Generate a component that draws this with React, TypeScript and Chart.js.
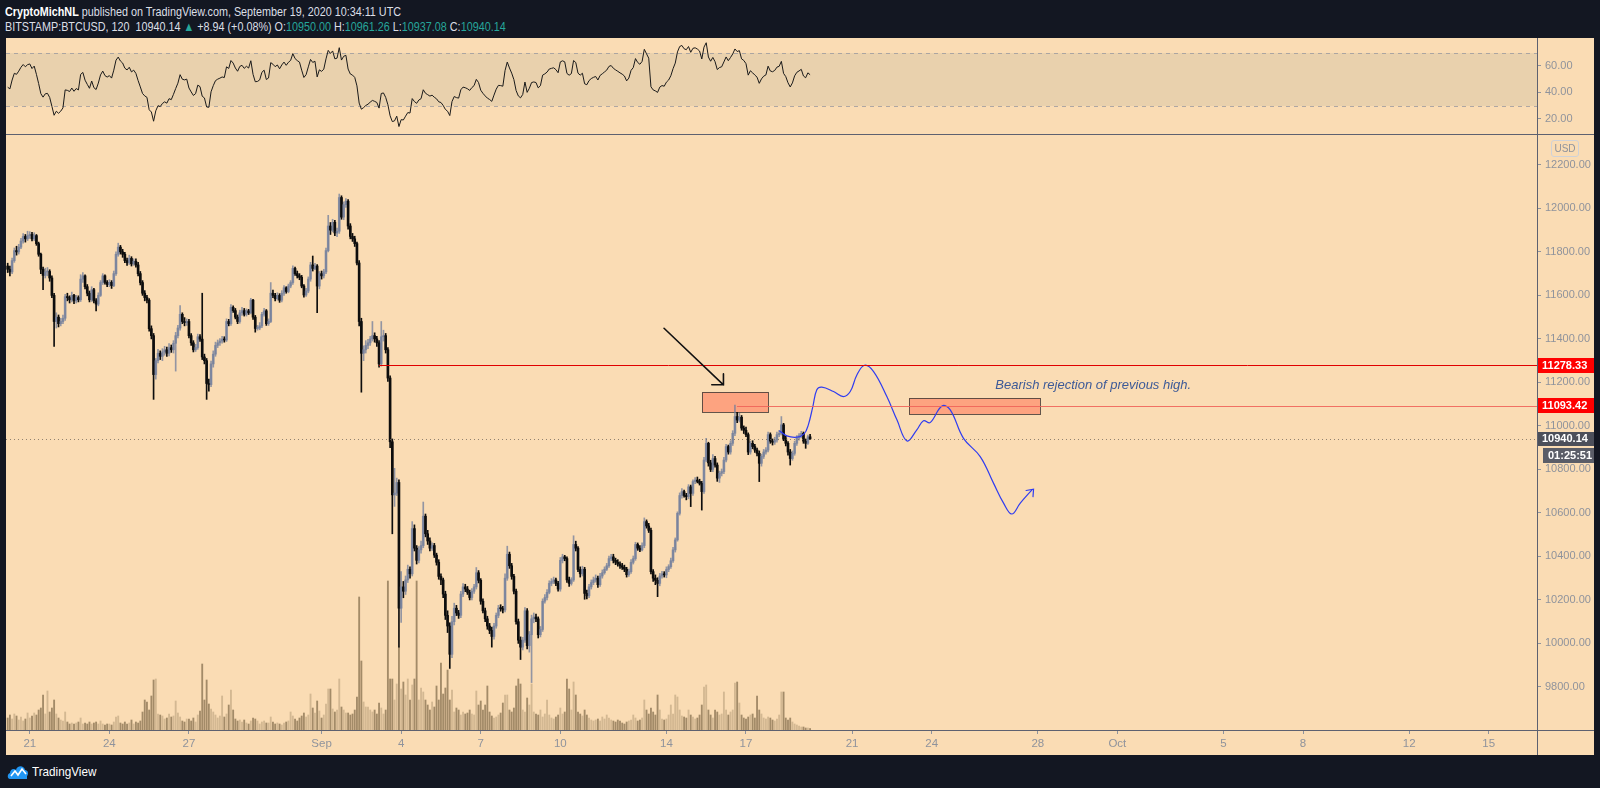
import React, { useEffect, useRef } from 'react';
import { Chart, registerables } from 'chart.js';

Chart.register(...registerables);

// ---------------- DATA ----------------
// 2-hour BTC/USD candles (Bitstamp), first candle Aug 20 04:00 UTC, last Sep 19 10:00 UTC.
// Time unit of the x axis: days relative to Aug 21 00:00 UTC.
const firstCandleDay = -20 / 24;
const candleStepDays = 2 / 24;
const firstOpen = 11735;

const closes = [
  11720, 11708, 11760, 11806, 11800, 11822, 11850, 11871, 11860, 11875, // Aug 20
  11880, 11860, 11875, 11838, 11789, 11720, 11692, 11708, 11710, 11680, 11600, 11480, // Aug 21
  11500, 11470, 11480, 11495, 11594, 11590, 11580, 11600, 11575, 11590, 11580, 11675, // Aug 22
  11690, 11640, 11610, 11580, 11626, 11575, 11560, 11600, 11659, 11690, 11660, 11650, // Aug 23
  11660, 11645, 11700, 11789, 11822, 11800, 11789, 11760, 11750, 11770, 11745, 11757, // Aug 24
  11740, 11700, 11659, 11610, 11590, 11578, 11447, 11415, 11236, 11300, 11334, 11320, // Aug 25
  11340, 11350, 11334, 11360, 11350, 11380, 11415, 11450, 11513, 11480, 11475, 11480, // Aug 26
  11415, 11382, 11350, 11360, 11410, 11399, 11317, 11300, 11195, 11190, 11285, 11330, // Aug 27
  11370, 11382, 11390, 11399, 11395, 11480, 11470, 11545, 11530, 11500, 11480, 11520, // Aug 28
  11530, 11513, 11529, 11520, 11578, 11500, 11448, 11450, 11460, 11513, 11529, 11470, // Aug 29
  11480, 11610, 11600, 11585, 11600, 11578, 11610, 11635, 11618, 11643, 11659, 11724, // Aug 30
  11700, 11690, 11683, 11643, 11602, 11620, 11675, 11740, 11724, 11735, 11643, 11700, // Aug 31
  11690, 11708, 11806, 11919, 11900, 11936, 11887, 11895, 12050, 11960, 12017, 12033, // Sep 1
  11919, 11871, 11860, 11838, 11749, 11480, 11334, 11350, 11370, 11382, 11400, 11415, // Sep 2
  11400, 11382, 11285, 11410, 11415, 11350, 11220, 10927, 10683, 10691, 10740, 10162, // Sep 3
  10260, 10240, 10292, 10341, 10320, 10528, 10438, 10382, 10430, 10450, 10585, 10504, // Sep 4
  10471, 10438, 10450, 10406, 10373, 10308, 10292, 10227, 10129, 10080, 9950, 10100, // Sep 5
  10162, 10140, 10129, 10227, 10260, 10250, 10235, 10211, 10240, 10260, 10325, 10290, // Sep 6
  10194, 10150, 10113, 10080, 10060, 10032, 10080, 10129, 10162, 10160, 10154, 10300, // Sep 7
  10410, 10357, 10308, 10240, 10100, 10015, 9983, 10015, 10150, 9990, 10040, 10113, // Sep 8
  10121, 10113, 10040, 10064, 10194, 10211, 10235, 10276, 10285, 10292, 10276, 10250, // Sep 9
  10382, 10398, 10390, 10292, 10276, 10292, 10455, 10438, 10340, 10320, 10341, 10230, // Sep 10
  10219, 10260, 10280, 10292, 10300, 10270, 10310, 10325, 10341, 10357, 10390, 10398, // Sep 11
  10382, 10373, 10365, 10357, 10350, 10341, 10316, 10330, 10373, 10390, 10455, 10438, // Sep 12
  10430, 10450, 10560, 10540, 10520, 10330, 10300, 10290, 10276, 10310, 10320, 10315, // Sep 13
  10340, 10353, 10380, 10430, 10476, 10598, 10680, 10698, 10680, 10675, 10720, 10690, // Sep 14
  10744, 10751, 10745, 10736, 10698, 10843, 10920, 10830, 10800, 10850, 10820, 10760, // Sep 15
  10782, 10790, 10843, 10905, 10880, 10920, 10966, 11043, 11027, 11040, 10990, 10980, // Sep 16
  10960, 10880, 10920, 10905, 10889, 10874, 10828, 10860, 10880, 10889, 10960, 10930, // Sep 17
  10925, 10935, 10960, 10966, 11005, 10940, 10920, 10880, 10850, 10874, 10920, 10945, // Sep 18
  10955, 10966, 10930, 10920, 10950, 10940.14, // Sep 19
];

const highs = [
  11748, 11735, 11772, 11818, 11826, 11835, 11862, 11884, 11880, 11895,
  11893, 11890, 11888, 11880, 11845, 11795, 11730, 11725, 11728, 11718, 11690, 11610,
  11520, 11510, 11495, 11510, 11605, 11610, 11598, 11615, 11605, 11600, 11598, 11695,
  11705, 11695, 11650, 11620, 11640, 11632, 11585, 11612, 11668, 11700, 11695, 11668,
  11672, 11668, 11712, 11800, 11840, 11830, 11812, 11798, 11772, 11785, 11778, 11768,
  11768, 11752, 11710, 11668, 11622, 11600, 11585, 11460, 11425, 11310, 11352, 11345,
  11355, 11366, 11362, 11378, 11372, 11392, 11430, 11462, 11553, 11520, 11498, 11492,
  11490, 11425, 11392, 11375, 11422, 11420, 11610, 11330, 11310, 11215, 11298, 11345,
  11385, 11395, 11402, 11412, 11410, 11492, 11490, 11558, 11552, 11540, 11510, 11532,
  11545, 11540, 11538, 11536, 11586, 11582, 11508, 11462, 11475, 11522, 11540, 11535,
  11492, 11659, 11625, 11610, 11612, 11608, 11622, 11645, 11640, 11652, 11668, 11736,
  11730, 11712, 11700, 11692, 11650, 11632, 11685, 11752, 11781, 11748, 11742, 11710,
  11712, 11720, 11818, 11968, 11935, 11950, 11945, 11910, 12066, 12058, 12030, 12045,
  12040, 11930, 11885, 11872, 11845, 11760, 11495, 11368, 11392, 11398, 11412, 11480,
  11428, 11412, 11392, 11480, 11440, 11425, 11360, 11230, 10940, 10805, 10760, 10752,
  10330, 10285, 10310, 10360, 10352, 10560, 10545, 10450, 10445, 10470, 10650, 10595,
  10520, 10485, 10462, 10460, 10415, 10385, 10320, 10300, 10240, 10150, 10095, 10125,
  10185, 10175, 10152, 10240, 10275, 10272, 10262, 10245, 10252, 10272, 10349, 10335,
  10298, 10205, 10162, 10125, 10092, 10075, 10092, 10140, 10175, 10178, 10170, 10320,
  10447, 10420, 10368, 10318, 10250, 10112, 10030, 10028, 10165, 10160, 10055, 10130,
  10140, 10135, 10122, 10078, 10205, 10225, 10248, 10288, 10298, 10305, 10300, 10285,
  10395, 10410, 10405, 10398, 10305, 10302, 10495, 10470, 10445, 10352, 10355, 10350,
  10245, 10272, 10292, 10305, 10315, 10310, 10322, 10338, 10352, 10368, 10402, 10410,
  10410, 10392, 10385, 10375, 10368, 10360, 10350, 10342, 10385, 10402, 10465, 10462,
  10450, 10462, 10577, 10568, 10552, 10530, 10340, 10315, 10302, 10322, 10332, 10330,
  10352, 10362, 10392, 10442, 10485, 10605, 10692, 10712, 10705, 10690, 10730, 10728,
  10752, 10762, 10765, 10755, 10745, 10855, 10943, 10925, 10842, 10868, 10860, 10830,
  10792, 10802, 10855, 10915, 10912, 10932, 10978, 11096, 11062, 11058, 11048, 11000,
  10995, 10968, 10930, 10932, 10915, 10898, 10885, 10870, 10892, 10900, 10972, 10968,
  10940, 10948, 10972, 10980, 11043, 11012, 10952, 10928, 10892, 10885, 10930, 10955,
  10965, 10975, 10972, 10940, 10958, 10961.26,
];

const lows = [
  11705, 11690, 11700, 11752, 11785, 11790, 11815, 11840, 11845, 11852,
  11862, 11850, 11852, 11830, 11780, 11700, 11626, 11680, 11690, 11665, 11590, 11366,
  11450, 11455, 11460, 11470, 11485, 11575, 11565, 11570, 11562, 11565, 11570, 11572,
  11660, 11630, 11598, 11570, 11572, 11565, 11529, 11552, 11595, 11650, 11652, 11640,
  11640, 11632, 11640, 11692, 11780, 11790, 11775, 11750, 11738, 11742, 11735, 11738,
  11730, 11690, 11648, 11600, 11575, 11565, 11435, 11400, 11122, 11215, 11290, 11305,
  11300, 11325, 11320, 11322, 11338, 11335, 11252, 11405, 11440, 11470, 11460, 11462,
  11405, 11370, 11340, 11342, 11352, 11388, 11305, 11285, 11122, 11160, 11180, 11270,
  11320, 11360, 11370, 11380, 11385, 11388, 11460, 11462, 11522, 11492, 11470, 11472,
  11508, 11505, 11505, 11512, 11515, 11490, 11431, 11440, 11442, 11452, 11505, 11462,
  11462, 11475, 11590, 11575, 11578, 11568, 11570, 11600, 11610, 11612, 11635, 11650,
  11692, 11680, 11672, 11635, 11592, 11595, 11612, 11665, 11712, 11718, 11521, 11630,
  11675, 11680, 11700, 11800, 11880, 11892, 11875, 11870, 11885, 11950, 11948, 12005,
  11905, 11860, 11848, 11825, 11740, 11460, 11155, 11300, 11335, 11355, 11370, 11390,
  11385, 11365, 11270, 11275, 11390, 11335, 11205, 10900, 10504, 10630, 10680, 9983,
  10097, 10210, 10225, 10280, 10300, 10310, 10425, 10365, 10370, 10415, 10440, 10490,
  10455, 10425, 10428, 10395, 10360, 10295, 10270, 10210, 10110, 10050, 9885, 9935,
  10085, 10128, 10115, 10118, 10215, 10238, 10225, 10200, 10200, 10230, 10250, 10278,
  10180, 10140, 10100, 10065, 10045, 9983, 10020, 10070, 10118, 10148, 10140, 10145,
  10290, 10345, 10295, 10228, 10088, 10000, 9926, 9970, 10005, 9975, 9960, 9820,
  10095, 10100, 10025, 10030, 10055, 10185, 10200, 10228, 10265, 10275, 10265, 10240,
  10240, 10370, 10380, 10280, 10262, 10268, 10285, 10425, 10330, 10305, 10310, 10203,
  10205, 10210, 10250, 10270, 10282, 10258, 10262, 10300, 10318, 10335, 10350, 10380,
  10370, 10362, 10355, 10345, 10340, 10330, 10305, 10308, 10322, 10365, 10382, 10428,
  10422, 10425, 10440, 10530, 10510, 10320, 10285, 10270, 10215, 10265, 10300, 10305,
  10302, 10330, 10345, 10372, 10420, 10470, 10590, 10668, 10672, 10660, 10665, 10629,
  10680, 10735, 10738, 10728, 10613, 10690, 10835, 10815, 10790, 10790, 10810, 10745,
  10740, 10770, 10780, 10835, 10870, 10870, 10910, 10955, 11015, 11018, 10980, 10965,
  10950, 10868, 10870, 10895, 10878, 10862, 10744, 10815, 10850, 10870, 10880, 10920,
  10912, 10915, 10925, 10950, 10958, 10932, 10908, 10865, 10820, 10842, 10865, 10910,
  10935, 10945, 10920, 10897, 10915, 10937.08,
];

const volumes = [
  120, 150, 110, 160, 140, 100, 130, 90, 110, 170,
  120, 140, 170, 150, 200, 220, 350, 160, 390, 180, 220, 300,
  160, 120, 100, 90, 180, 80, 60, 70, 60, 70, 80, 120,
  60, 70, 60, 80, 60, 70, 80, 60, 90, 60, 50, 60,
  60, 50, 80, 130, 140, 70, 60, 80, 60, 70, 100, 60,
  80, 70, 90, 180, 300, 280, 200, 340, 500, 510, 160, 150,
  140, 110, 120, 160, 130, 140, 290, 170, 130, 90, 80, 110,
  110, 90, 120, 80, 150, 190, 660, 300, 500, 260, 210, 180,
  150, 120, 140, 340, 130, 160, 250, 400, 200, 110, 90, 100,
  80, 100, 70, 60, 90, 120, 110, 90, 60, 80, 90, 70,
  70, 130, 80, 60, 70, 60, 50, 70, 80, 90, 180, 140,
  110, 90, 120, 140, 170, 130, 150, 360, 220, 170, 290, 190,
  120, 150, 260, 410, 410, 210, 180, 200, 510, 230, 200, 170,
  170, 150, 160, 200, 330, 1330, 690, 280, 230, 230, 200, 180,
  200, 160, 270, 220, 160, 200, 1490, 510, 510, 300, 460, 830,
  410, 480, 350, 510, 300, 450, 510, 1490, 300, 420, 380, 300,
  250, 200, 280, 230, 440, 300, 670, 360, 420, 600, 300, 400,
  180, 220, 200, 150, 180, 160, 170, 200, 160, 150, 390, 250,
  290, 200, 250, 440, 180, 140, 120, 130, 150, 170, 270, 350,
  350, 200, 180, 220, 440, 510, 460, 200, 180, 320, 250, 460,
  180, 160, 150, 200, 130, 160, 300, 150, 120, 110, 130, 150,
  220, 160, 180, 510, 410, 200, 480, 350, 180, 160, 140, 200,
  150, 120, 100, 90, 100, 110, 90, 130, 110, 150, 120, 100,
  90, 80, 100, 90, 70, 60, 80, 90, 100, 150, 120, 90,
  100, 120, 300, 200, 160, 220, 180, 150, 350, 200, 110, 100,
  110, 150, 250, 160, 350, 330, 200, 140, 130, 120, 200, 150,
  130, 110, 120, 150, 250, 430, 450, 200, 150, 120, 200, 180,
  150, 160, 380, 200, 150, 180, 200, 470, 480, 270, 150, 120,
  110, 130, 150, 160, 120, 340, 200, 160, 120, 110, 130, 120,
  100, 90, 110, 150, 380, 380, 120, 100, 120, 80, 60, 50,
  40, 30, 30, 20, 20, 15,
];

// RSI(14) seed (average gain / loss carried in from the candles before the visible range)
const rsiPeriod = 14;
const rsiSeedGain = 15;
const rsiSeedLoss = 18;
const rsiBand = [30, 70];
const rsiTicks = [20, 40, 60];

// Axis ticks
const priceTicks = [9800, 10000, 10200, 10400, 10600, 10800, 11000, 11200, 11400, 11600, 11800, 12000, 12200];
const timeTickDays = [0, 3, 6, 11, 14, 17, 20, 24, 27, 31, 34, 38, 41, 45, 48, 52, 55];
const timeTickLabels = ['21', '24', '27', 'Sep', '4', '7', '10', '14', '17', '21', '24', '28', 'Oct', '5', '8', '12', '15'];

// Drawings
const levelPrices = [11278.33, 11093.42];
const levelStartDays = [13.17, 26.66];
const lastPrice = 10940.14;
const countdown = '01:25:51';
const zoneDays = [[25.36, 27.84], [33.16, 38.1]];
const zonePrices = [[11066, 11155], [11056, 11127]];
const arrowDays = [23.91, 26.15];
const arrowPrices = [11449, 11189];
const arrowHeadDays = [25.71, 26.15];
const arrowHeadPrices = [11189, 11239];
const projDays = [28.26, 28.54, 28.92, 29.19, 29.35, 29.52, 29.67, 29.86, 30.3, 30.67, 30.93, 31.18, 31.47, 31.81, 32.31, 32.69, 33.07, 33.44, 33.69, 33.94, 34.39, 34.7, 35.2, 35.83, 36.33, 36.71, 37.02, 37.34, 37.78];
const projPrices = [10978, 10954, 10948, 10963, 11005, 11089, 11166, 11178, 11158, 11135, 11158, 11234, 11279, 11250, 11135, 11028, 10931, 10982, 11024, 11015, 11092, 11074, 10943, 10859, 10737, 10645, 10595, 10645, 10706];
const projHeadDays = [37.56, 37.84, 37.82];
const projHeadPrices = [10703, 10709, 10675];
const noteText = 'Bearish rejection of previous high.';
const noteDay = 36.4;
const notePrice = 11184;

// ---------------- STYLE ----------------
const BG = '#131722';
const BEIGE = '#fadcb4';
const LINE = '#5d6170';
const TICK = '#8f939c';
const TEAL = '#26a69a';
const UP = 'rgba(112,126,156,0.75)';
const DOWN = '#0d0d0d';
const VOL_UP = 'rgba(165,140,105,0.45)';
const VOL_DOWN = 'rgba(110,88,58,0.62)';
const FONT = '"Liberation Sans", Arial, sans-serif';
const X_MIN = -0.897;
const X_MAX = 56.82;
const Y_MIN = 9602;
const Y_MAX = 12342;
const RSI_MIN = 8.6;
const RSI_MAX = 81.1;
const VOL_MAX = 5960;

function computeRsi(values: number[], prev: number): number[] {
  const out: number[] = [];
  let ag = rsiSeedGain;
  let al = rsiSeedLoss;
  let p = prev;
  for (const v of values) {
    const ch = v - p;
    ag = (ag * (rsiPeriod - 1) + Math.max(ch, 0)) / rsiPeriod;
    al = (al * (rsiPeriod - 1) + Math.max(-ch, 0)) / rsiPeriod;
    out.push(al === 0 ? 100 : 100 - 100 / (1 + ag / al));
    p = v;
  }
  return out;
}

const timeOf = (i: number) => firstCandleDay + i * candleStepDays;

function xScaleBase(display: boolean): any {
  return {
    type: 'linear',
    position: 'bottom',
    min: X_MIN,
    max: X_MAX,
    offset: false,
    display,
    afterBuildTicks: (s: any) => {
      s.ticks = timeTickDays.map((v) => ({ value: v }));
    },
    afterFit: (s: any) => {
      s.height = display ? 25 : 0;
      s.paddingLeft = 0;
      s.paddingRight = 0;
    },
    grid: { display: true, offset: false, drawOnChartArea: false, drawTicks: true, tickLength: 4, color: TICK },
    border: { display: false },
    ticks: {
      autoSkip: false,
      maxRotation: 0,
      color: TICK,
      padding: 3,
      font: { family: FONT, size: 11.5 },
      callback: (_v: any, i: number) => timeTickLabels[i],
    },
  };
}

function yScaleBase(min: number, max: number, ticks: number[]): any {
  return {
    position: 'right',
    min,
    max,
    afterBuildTicks: (s: any) => {
      s.ticks = ticks.map((v) => ({ value: v }));
    },
    afterFit: (s: any) => {
      s.width = 57;
      s.paddingTop = 0;
      s.paddingBottom = 0;
    },
    grid: { display: true, drawOnChartArea: false, drawTicks: true, tickLength: 4, color: TICK },
    border: { display: false },
    ticks: {
      color: TICK,
      padding: 4,
      font: { family: FONT, size: 11 },
      callback: (v: any) => Number(v).toFixed(2),
    },
  };
}

const rsiBandPlugin = {
  id: 'rsiBand',
  beforeDatasetsDraw(chart: any) {
    const { ctx, chartArea: ca, scales } = chart;
    const y = scales.y;
    const yTop = Math.round(y.getPixelForValue(rsiBand[1]));
    const yBot = Math.round(y.getPixelForValue(rsiBand[0]));
    ctx.save();
    ctx.fillStyle = '#e9d1ad';
    ctx.fillRect(ca.left, yTop, ca.right - ca.left, yBot - yTop);
    ctx.strokeStyle = 'rgba(150,150,158,0.75)';
    ctx.lineWidth = 1;
    ctx.setLineDash([4, 4]);
    for (const yy of [yTop, yBot]) {
      ctx.beginPath();
      ctx.moveTo(ca.left, yy + 0.5);
      ctx.lineTo(ca.right, yy + 0.5);
      ctx.stroke();
    }
    ctx.restore();
  },
};

function tag(ctx: any, yPix: number, text: string, bg: string, left: number, right: number, h: number) {
  ctx.fillStyle = bg;
  ctx.fillRect(left, Math.round(yPix - h / 2), right - left, h);
  ctx.fillStyle = '#ffffff';
  ctx.font = `bold 11px ${FONT}`;
  ctx.textBaseline = 'middle';
  ctx.textAlign = 'left';
  ctx.fillText(text, left + 5, yPix + 0.5);
}

const drawingsPlugin = {
  id: 'drawings',
  beforeDatasetsDraw(chart: any) {
    const { ctx, chartArea: ca, scales } = chart;
    const x = scales.x;
    const y = scales.y;
    ctx.save();
    ctx.beginPath();
    ctx.rect(ca.left, ca.top, ca.right - ca.left, ca.bottom - ca.top);
    ctx.clip();
    zoneDays.forEach((d, i) => {
      const x0 = Math.round(x.getPixelForValue(d[0]));
      const x1 = Math.round(x.getPixelForValue(d[1]));
      const y0 = Math.round(y.getPixelForValue(zonePrices[i][1]));
      const y1 = Math.round(y.getPixelForValue(zonePrices[i][0]));
      ctx.fillStyle = 'rgba(255,105,75,0.5)';
      ctx.fillRect(x0, y0, x1 - x0, y1 - y0);
      ctx.strokeStyle = 'rgba(70,60,55,0.85)';
      ctx.lineWidth = 1;
      ctx.strokeRect(x0 + 0.5, y0 + 0.5, x1 - x0, y1 - y0);
    });
    ctx.restore();
  },
  afterDatasetsDraw(chart: any) {
    const { ctx, chartArea: ca, scales } = chart;
    const x = scales.x;
    const y = scales.y;
    ctx.save();
    ctx.beginPath();
    ctx.rect(ca.left, ca.top, ca.right - ca.left, ca.bottom - ca.top);
    ctx.clip();
    // last price dotted line
    const yl = Math.round(y.getPixelForValue(lastPrice)) + 0.5;
    ctx.strokeStyle = 'rgba(110,100,90,0.75)';
    ctx.lineWidth = 1;
    ctx.setLineDash([1, 3]);
    ctx.beginPath();
    ctx.moveTo(ca.left, yl);
    ctx.lineTo(ca.right, yl);
    ctx.stroke();
    ctx.setLineDash([]);
    // level lines
    const levelColors = ['#e00000', 'rgba(240,100,90,0.9)'];
    levelPrices.forEach((p, i) => {
      const yy = Math.round(y.getPixelForValue(p)) + 0.5;
      ctx.strokeStyle = levelColors[i];
      ctx.beginPath();
      ctx.moveTo(x.getPixelForValue(levelStartDays[i]), yy);
      ctx.lineTo(ca.right, yy);
      ctx.stroke();
    });
    // black arrow
    ctx.strokeStyle = '#111';
    ctx.lineWidth = 1.6;
    ctx.lineCap = 'round';
    const ax0 = x.getPixelForValue(arrowDays[0]);
    const ay0 = y.getPixelForValue(arrowPrices[0]);
    const ax1 = x.getPixelForValue(arrowDays[1]);
    const ay1 = y.getPixelForValue(arrowPrices[1]);
    ctx.beginPath();
    ctx.moveTo(ax0, ay0);
    ctx.lineTo(ax1, ay1);
    ctx.moveTo(x.getPixelForValue(arrowHeadDays[0]), y.getPixelForValue(arrowHeadPrices[0]));
    ctx.lineTo(ax1, ay1);
    ctx.lineTo(x.getPixelForValue(arrowHeadDays[1]), y.getPixelForValue(arrowHeadPrices[1]));
    ctx.stroke();
    // projection arrow head
    ctx.strokeStyle = '#2f3cf0';
    ctx.lineWidth = 1.2;
    ctx.beginPath();
    ctx.moveTo(x.getPixelForValue(projHeadDays[0]), y.getPixelForValue(projHeadPrices[0]));
    ctx.lineTo(x.getPixelForValue(projHeadDays[1]), y.getPixelForValue(projHeadPrices[1]));
    ctx.lineTo(x.getPixelForValue(projHeadDays[2]), y.getPixelForValue(projHeadPrices[2]));
    ctx.stroke();
    // note
    ctx.fillStyle = '#3d5a98';
    ctx.font = `italic 13px "Liberation Sans", Arial, sans-serif`;
    ctx.textAlign = 'left';
    ctx.textBaseline = 'middle';
    ctx.fillText(noteText, x.getPixelForValue(noteDay), y.getPixelForValue(notePrice));
    ctx.restore();

    // price tags on the axis
    const left = ca.right;
    const right = chart.width - 6;
    const tagColors = ['#ff0000', '#ff0000'];
    levelPrices.forEach((p, i) => {
      tag(ctx, y.getPixelForValue(p), p.toFixed(2), tagColors[i], left, right, 15);
    });
    const ly = y.getPixelForValue(lastPrice);
    tag(ctx, ly, lastPrice.toFixed(2), '#4c4f5a', left, right, 14);
    tag(ctx, ly + 17, countdown, '#5a5d68', left + 6, right, 15);
  },
};

export default function App() {
  const rsiRef = useRef<HTMLCanvasElement>(null);
  const mainRef = useRef<HTMLCanvasElement>(null);

  useEffect(() => {
    const opens = closes.map((_, i) => (i === 0 ? firstOpen : closes[i - 1]));
    const isUp = closes.map((c, i) => c >= opens[i]);
    const rsi = computeRsi(closes, firstOpen);

    const rsiChart = new Chart(rsiRef.current as HTMLCanvasElement, {
      type: 'line',
      data: {
        datasets: [
          {
            data: rsi.map((v, i) => ({ x: timeOf(i), y: v })),
            borderColor: '#1a1a1a',
            borderWidth: 1,
            pointRadius: 0,
            tension: 0,
          },
        ],
      },
      options: {
        animation: false,
        responsive: false,
        devicePixelRatio: 1,
        layout: { padding: { left: 6, right: 6, top: 0, bottom: 0 } },
        plugins: { legend: { display: false }, tooltip: { enabled: false } },
        scales: {
          x: xScaleBase(false),
          y: yScaleBase(RSI_MIN, RSI_MAX, rsiTicks),
        },
      } as any,
      plugins: [rsiBandPlugin],
    });

    const mainChart = new Chart(mainRef.current as HTMLCanvasElement, {
      type: 'bar',
      data: {
        datasets: [
          {
            type: 'bar',
            yAxisID: 'yv',
            data: volumes.map((v, i) => ({ x: timeOf(i), y: v })),
            backgroundColor: isUp.map((u) => (u ? VOL_UP : VOL_DOWN)),
            barThickness: 1.2,
            grouped: false,
            order: 4,
          },
          {
            type: 'bar',
            yAxisID: 'y',
            data: closes.map((_, i) => ({ x: timeOf(i), y: [lows[i], highs[i]] })),
            backgroundColor: isUp.map((u) => (u ? UP : DOWN)),
            barThickness: 1,
            grouped: false,
            order: 3,
          },
          {
            type: 'bar',
            yAxisID: 'y',
            data: closes.map((c, i) => ({ x: timeOf(i), y: [opens[i], c] })),
            backgroundColor: isUp.map((u) => (u ? UP : DOWN)),
            barThickness: 2,
            minBarLength: 1,
            grouped: false,
            order: 2,
          },
          {
            type: 'line',
            yAxisID: 'y',
            data: projDays.map((d, i) => ({ x: d, y: projPrices[i] })),
            borderColor: '#2f3cf0',
            borderWidth: 1.2,
            pointRadius: 0,
            tension: 0.4,
            order: 1,
          },
        ],
      } as any,
      options: {
        animation: false,
        responsive: false,
        devicePixelRatio: 1,
        layout: { padding: { left: 6, right: 6, top: 0, bottom: 0 } },
        plugins: { legend: { display: false }, tooltip: { enabled: false } },
        scales: {
          x: xScaleBase(true),
          y: yScaleBase(Y_MIN, Y_MAX, priceTicks),
          yv: { display: false, min: 0, max: VOL_MAX },
        },
      } as any,
      plugins: [drawingsPlugin],
    });

    return () => {
      rsiChart.destroy();
      mainChart.destroy();
    };
  }, []);

  const txt: React.CSSProperties = {
    position: 'absolute',
    left: 5,
    whiteSpace: 'nowrap',
    fontFamily: FONT,
    fontSize: 13,
    color: '#dcdfe6',
    lineHeight: '15px',
    transform: 'scaleX(0.83)',
    transformOrigin: 'left center',
  };

  return (
    <div style={{ position: 'fixed', left: 0, top: 0, width: 1600, height: 788, background: BG, overflow: 'hidden' }}>
      <div style={{ ...txt, top: 4 }}>
        <span style={{ fontWeight: 700, color: '#ffffff' }}>CryptoMichNL</span> published on TradingView.com, September 19, 2020 10:34:11 UTC
      </div>
      <div style={{ ...txt, top: 19 }}>
        BITSTAMP:BTCUSD, 120&nbsp; 10940.14 <span style={{ color: TEAL }}>▲</span> +8.94 (+0.08%) O:<span style={{ color: TEAL }}>10950.00</span> H:<span style={{ color: TEAL }}>10961.26</span> L:<span style={{ color: TEAL }}>10937.08</span> C:<span style={{ color: TEAL }}>10940.14</span>
      </div>
      <div style={{ position: 'absolute', left: 6, top: 38, width: 1588, height: 717, background: BEIGE }} />
      <canvas ref={rsiRef} width={1600} height={96} style={{ position: 'absolute', left: 0, top: 38 }} />
      <canvas ref={mainRef} width={1600} height={621} style={{ position: 'absolute', left: 0, top: 134 }} />
      <div style={{ position: 'absolute', left: 6, top: 134, width: 1588, height: 1, background: LINE }} />
      <div style={{ position: 'absolute', left: 6, top: 730, width: 1588, height: 1, background: LINE }} />
      <div style={{ position: 'absolute', left: 1537, top: 38, width: 1, height: 717, background: LINE }} />
      <div
        style={{
          position: 'absolute',
          left: 1551,
          top: 140,
          width: 26,
          height: 15,
          border: '1px solid #cfd2d8',
          borderRadius: 3,
          fontFamily: FONT,
          fontSize: 10,
          lineHeight: '15px',
          color: TICK,
          textAlign: 'center',
        }}
      >
        USD
      </div>
      <div style={{ position: 'absolute', left: 7, top: 763, display: 'flex', alignItems: 'center' }}>
        <svg width="22" height="17" viewBox="0 0 22 17">
          <path d="M3 16 C0 16 0 11 3 10 C3 6 7 5 9 7 C10 2 17 2 18 7 C21 7 22 11 20 13 L20 16 Z" fill="#2196f3" />
          <path d="M4 13 L8 8 L11 12 L15 6 L19 11" stroke="#ffffff" strokeWidth="1.6" fill="none" />
        </svg>
        <span style={{ marginLeft: 3, fontFamily: FONT, fontSize: 13, color: '#ffffff', transform: 'scaleX(0.9)', transformOrigin: 'left center', display: 'inline-block' }}>TradingView</span>
      </div>
    </div>
  );
}
